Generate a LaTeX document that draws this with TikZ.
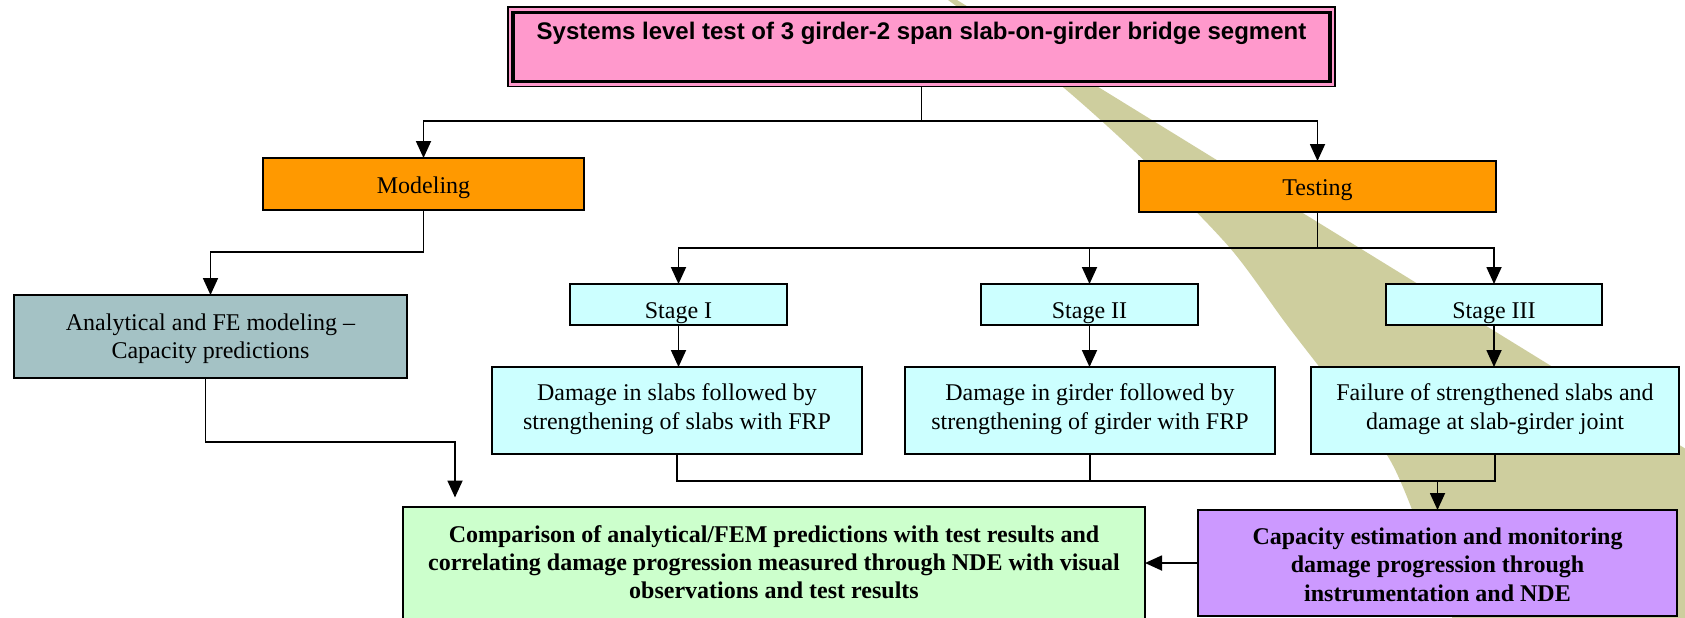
\documentclass[tikz,border=0pt]{standalone}
\usepackage{fontspec}
\setmainfont{Liberation Serif}
\newfontfamily\arialfont{Liberation Sans}
\usetikzlibrary{arrows.meta}
\definecolor{pinkfill}{RGB}{255,153,204}
\definecolor{orangefill}{RGB}{255,153,0}
\definecolor{grayfill}{RGB}{164,194,197}
\definecolor{cyanfill}{RGB}{204,255,255}
\definecolor{greenfill}{RGB}{204,255,204}
\definecolor{purplefill}{RGB}{204,153,255}
\definecolor{bandfill}{RGB}{206,206,158}
\newcommand{\lines}[1]{\setlength{\tabcolsep}{0pt}\begin{tabular}[t]{c}#1\end{tabular}}
\begin{document}
\begin{tikzpicture}[x=0.5pt,y=-0.5pt,
  box/.style={draw=black, line width=1.35pt, inner sep=0pt, outer sep=0pt},
  txt/.style={inner sep=0pt, outer sep=0pt, anchor=base, font=\fontsize{12}{14.2}\selectfont},
  boldtxt/.style={txt, font=\bfseries\fontsize{12}{14}\selectfont},
  conn/.style={line width=0.9pt},
  arr/.style={conn, -{Triangle[length=8.5pt,width=7.5pt]}},
]
\useasboundingbox (0,0) rectangle (1685,617);
\clip (0,0) rectangle (1685,617);
\fill[white] (0,0) rectangle (1685,617);
% olive band
\fill[bandfill] plot[smooth,tension=0.5] coordinates {(948,0) (1058,83) (1150,166) (1230,248) (1287,325) (1345,400) (1390,460) (1420,530) (1452,617)} -- (1452,640) -- (1720,640) -- (1720,470) -- (957,0) -- cycle;

% boxes
\node[box, fill=pinkfill, line width=0.8pt, minimum width=413.5pt, minimum height=39.75pt] (topo) at (921.5,46.75) {};
\node[box, line width=1.6pt, minimum width=408.5pt, minimum height=34.5pt] (topi) at (921.5,47) {};
\node[box, fill=orangefill, minimum width=160.5pt, minimum height=26pt] (modeling) at (423.5,184) {};
\node[box, fill=orangefill, minimum width=178.5pt, minimum height=25.5pt] (testing) at (1317.5,186.5) {};
\node[box, fill=grayfill, minimum width=196.5pt, minimum height=41.5pt] (analytical) at (210.5,336.5) {};
\node[box, fill=cyanfill, minimum width=108.5pt, minimum height=20.5pt] (stage1) at (678.5,304.5) {};
\node[box, fill=cyanfill, minimum width=108.5pt, minimum height=20.5pt] (stage2) at (1089.5,304.5) {};
\node[box, fill=cyanfill, minimum width=108pt, minimum height=20.5pt] (stage3) at (1494,304.5) {};
\node[box, fill=cyanfill, minimum width=185pt, minimum height=43.5pt] (dmg1) at (677,410.5) {};
\node[box, fill=cyanfill, minimum width=185pt, minimum height=43.5pt] (dmg2) at (1090,410.5) {};
\node[box, fill=cyanfill, minimum width=184pt, minimum height=43.5pt] (dmg3) at (1495,410.5) {};
\node[box, fill=greenfill, minimum width=371pt, minimum height=76.5pt] (cmp) at (774,583.5) {};
\node[box, fill=purplefill, minimum width=239.5pt, minimum height=53pt] (purple) at (1437.5,563) {};

% texts
\node[txt, font=\arialfont\bfseries\fontsize{12}{14}\selectfont] (toptext) at (921.5,39.3) {Systems level test of 3 girder-2 span slab-on-girder bridge segment};
\node[txt] (modtext) at (423.5,193.3) {Modeling};
\node[txt] (testtext) at (1317.5,195) {Testing};
\node[txt] (analtext) at (210.5,330) {\lines{Analytical and FE modeling --\\Capacity predictions}};
\node[txt] (s1text) at (678.5,318.3) {Stage I};
\node[txt] (s2text) at (1089.5,318.3) {Stage II};
\node[txt] (s3text) at (1494,318.3) {Stage III};
\node[txt] (d1text) at (677,400.7) {\lines{Damage in slabs followed by\\strengthening of slabs with FRP}};
\node[txt] (d2text) at (1090,400.7) {\lines{Damage in girder followed by\\strengthening of girder with FRP}};
\node[txt] (d3text) at (1495,400.7) {\lines{Failure of strengthened slabs and\\damage at slab-girder joint}};
\node[boldtxt] (cmptext) at (774,542) {\lines{Comparison of analytical/FEM predictions with test results and\\correlating damage progression measured through NDE with visual\\observations and test results}};
\node[boldtxt, font=\bfseries\fontsize{12}{14.4}\selectfont] (purtext) at (1437.5,544) {\lines{Capacity estimation and monitoring\\damage progression through\\instrumentation and NDE}};

% connectors
\coordinate (j1) at (921.5,121);
\draw[conn] (topo.south) -- (j1);
\draw[arr] (j1) -| (modeling.north);
\draw[arr] (j1) -| (testing.north);

\coordinate (j2) at (423.5,252);
\draw[arr] (modeling.south) -- (j2) -| (analytical.north);

\coordinate (j3) at (455,442);
\coordinate (t3) at (455,497.5);
\draw[arr] ([xshift=-2.5pt]analytical.south) |- (j3) -- (t3);

\coordinate (j4) at (1317.5,248);
\draw[conn] (testing.south) -- (j4);
\draw[arr] (j4) -| (stage1.north);
\draw[arr] (j4) -| (stage3.north);
\draw[arr] (stage2.north |- j4) -- (stage2.north);

\draw[arr] (stage1.south) -- (stage1.south |- dmg1.north);
\draw[arr] (stage2.south) -- (stage2.south |- dmg2.north);
\draw[arr] (stage3.south) -- (stage3.south |- dmg3.north);

\coordinate (j5) at (1437.5,481);
\draw[conn] (dmg1.south) |- (j5);
\draw[conn] (dmg3.south) |- (j5);
\draw[conn] (dmg2.south) -- (dmg2.south |- j5);
\draw[arr] (j5) -- (purple.north);

\draw[arr] (purple.west) -- (purple.west -| cmp.east);
\end{tikzpicture}
\end{document}
